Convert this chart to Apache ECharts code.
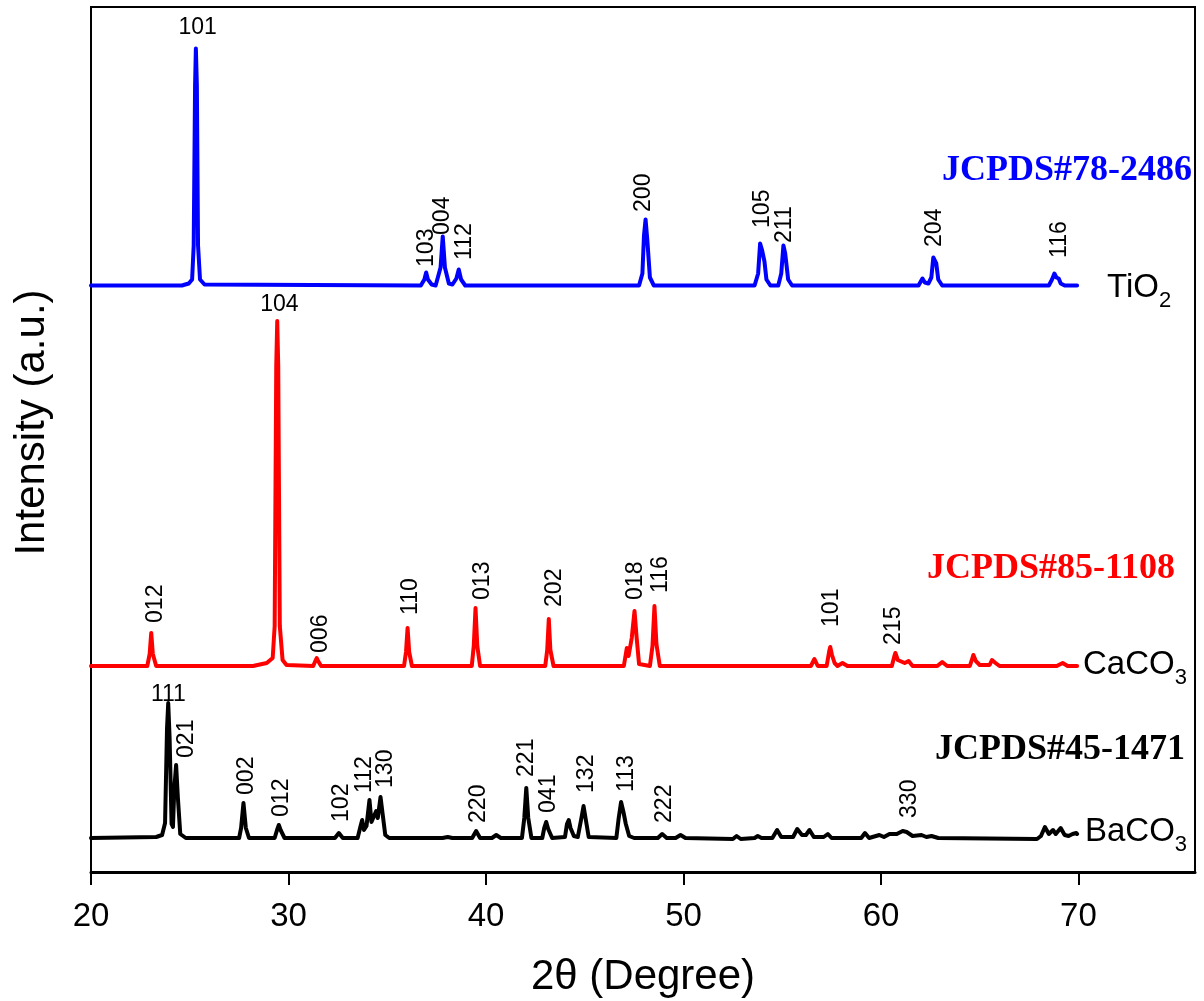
<!DOCTYPE html>
<html>
<head>
<meta charset="utf-8">
<script src="https://cdn.jsdelivr.net/npm/echarts@6/dist/echarts.min.js"></script>
<style>
  html, body { margin: 0; padding: 0; background: #fff; }
  #chart { width: 1204px; height: 1001px; }
</style>
</head>
<body>
<div id="chart"></div>
<script>
// 2θ (deg) vs intensity above each pattern's own baseline (a.u.)
const tio2Profile = [
  [20, 0], [24.6, 0], [24.95, 2], [25.12, 6], [25.2, 40], [25.27, 200], [25.31, 237], [25.36, 200],
  [25.42, 40], [25.52, 6], [25.75, 1], [36.7, 0], [36.88, 6], [36.97, 13], [37.06, 6], [37.25, 1],
  [37.45, 0], [37.7, 18], [37.81, 49], [37.92, 18], [38.12, 2], [38.3, 1], [38.5, 7], [38.62, 16],
  [38.74, 6], [38.95, 0], [47.75, 0], [47.92, 12], [48.0, 50], [48.08, 66], [48.17, 45], [48.3, 8],
  [48.5, 0], [53.6, 0], [53.78, 12], [53.88, 42], [53.97, 36], [54.1, 24], [54.2, 6], [54.4, 0],
  [54.8, 0], [54.95, 12], [55.06, 40], [55.15, 32], [55.3, 6], [55.5, 0], [61.9, 0], [62.1, 7],
  [62.22, 3], [62.4, 2], [62.55, 8], [62.65, 28], [62.71, 30], [62.8, 22], [62.9, 6], [63.1, 0],
  [68.5, 0], [68.66, 6], [68.78, 12], [68.88, 8], [69.0, 7], [69.1, 2], [69.3, 0], [69.93, 0]
];
const caco3Profile = [
  [20, 0], [22.85, 0], [22.97, 12], [23.05, 33], [23.13, 12], [23.3, 0], [28.2, 0], [28.9, 3],
  [29.2, 8], [29.3, 40], [29.38, 300], [29.43, 345], [29.48, 300], [29.56, 40], [29.7, 6], [29.9, 1],
  [31.25, 0], [31.36, 5], [31.43, 8], [31.5, 5], [31.65, 0], [35.85, 0], [35.95, 14], [36.03, 38],
  [36.11, 14], [36.25, 0], [39.28, 0], [39.38, 20], [39.47, 58], [39.56, 20], [39.7, 0], [43.0, 0],
  [43.1, 16], [43.18, 47], [43.26, 16], [43.42, 0], [46.98, 0], [47.08, 12], [47.13, 18], [47.22, 10],
  [47.38, 28], [47.52, 55], [47.62, 30], [47.75, 2], [48.3, 0], [48.43, 20], [48.53, 60], [48.63, 22],
  [48.8, 0], [56.45, 0], [56.63, 7], [56.8, 0], [57.25, 0], [57.38, 15], [57.43, 19], [57.52, 11],
  [57.65, 3], [57.8, 0], [58.05, 3], [58.3, 0], [60.55, 0], [60.68, 10], [60.73, 13], [60.85, 6],
  [61.2, 3], [61.4, 5], [61.6, 0], [62.85, 0], [63.1, 4], [63.35, 0], [64.5, 0], [64.63, 8],
  [64.68, 11], [64.8, 5], [65.0, 1], [65.5, 1], [65.62, 6], [65.68, 8], [65.8, 3], [66.0, 0],
  [68.9, 0], [69.2, 3], [69.45, 0], [69.93, 0]
];
const baco3Profile = [
  [20, 0], [23.3, 1], [23.6, 3], [23.75, 15], [23.85, 110], [23.91, 135], [23.98, 100], [24.08, 14],
  [24.15, 11], [24.22, 50], [24.31, 73], [24.4, 40], [24.52, 4], [24.8, 0], [27.5, 0], [27.6, 10],
  [27.72, 35], [27.84, 10], [28.0, 0], [29.3, 0], [29.42, 8], [29.51, 13], [29.6, 8], [29.8, 0],
  [32.35, 0], [32.55, 5], [32.75, 0], [33.5, 0], [33.65, 12], [33.73, 18], [33.82, 8], [33.95, 12],
  [34.1, 38], [34.2, 16], [34.3, 14], [34.44, 27], [34.52, 20], [34.66, 41], [34.76, 25], [34.9, 3],
  [35.1, 0], [37.8, 0], [38.06, 1], [38.3, 0], [39.3, 0], [39.5, 7], [39.7, 0], [40.3, 0],
  [40.52, 3], [40.75, 0], [41.82, 0], [41.94, 20], [42.04, 50], [42.14, 20], [42.3, 0], [42.85, 0],
  [42.95, 10], [43.05, 16], [43.15, 9], [43.35, 0], [44.0, 1], [44.1, 14], [44.19, 18], [44.28, 10],
  [44.45, 2], [44.65, 1], [44.85, 22], [44.94, 32], [45.04, 20], [45.2, 1], [46.6, 0], [46.72, 20],
  [46.84, 36], [46.96, 26], [47.08, 14], [47.25, 2], [47.5, 0], [48.7, 0], [48.92, 4], [49.15, 0],
  [49.6, 0], [49.85, 3], [50.1, 0], [52.5, -1], [52.69, 2], [52.9, -1], [53.6, 0], [53.76, 2],
  [53.95, 0], [54.5, 0], [54.74, 8], [54.95, 1], [55.55, 1], [55.76, 9], [56.0, 3], [56.2, 3],
  [56.38, 8], [56.6, 1], [57.1, 1], [57.31, 4], [57.5, 0], [59.0, 0], [59.19, 5], [59.4, 0],
  [59.92, 3], [60.15, 1], [60.43, 4], [60.8, 4], [61.1, 7], [61.3, 6], [61.6, 2], [62.05, 3],
  [62.3, 1], [62.56, 2], [62.9, 0], [67.9, -1], [68.1, 2], [68.3, 11], [68.5, 4], [68.71, 8],
  [68.85, 4], [69.1, 10], [69.3, 3], [69.5, 2], [69.7, 4], [69.89, 5], [69.93, 4]
];

// vertical offsets used to stack the patterns (a.u.)
const stackOffsets = { tio2: 586.5, caco3: 206, baco3: 34 };

// Miller indices: [2θ, label base above baseline, hkl]
const tio2Top = [[25.4, 246.5, '101']];
const tio2Hkl = [
  [36.99, 18.5, '103'], [37.8, 50.5, '004'], [38.91, 25.5, '112'], [47.97, 73.5, '200'],
  [54.0, 57.5, '105'], [55.11, 42.5, '211'], [62.71, 38.5, '204'], [69.04, 27.5, '116']
];
const caco3Top = [[29.54, 350, '104']];
const caco3Hkl = [
  [23.27, 43, '012'], [31.61, 13, '006'], [36.21, 51, '110'], [39.81, 66, '013'], [43.47, 59, '202'],
  [47.6, 66, '018'], [48.87, 73, '116'], [57.48, 39, '101'], [60.63, 21, '215']
];
const baco3Top = [[23.92, 132, '111']];
const baco3Hkl = [
  [24.87, 80, '021'], [27.86, 43, '002'], [29.68, 21, '012'], [32.7, 16, '102'], [33.88, 45, '112'],
  [34.91, 50, '130'], [39.64, 15, '220'], [42.04, 61, '221'], [43.18, 25, '041'], [45.1, 45, '132'],
  [47.15, 46, '113'], [49.04, 15, '222'], [61.44, 20, '330']
];

const xTicks = [20, 30, 40, 50, 60, 70];
const cardLabels = ['JCPDS#78-2486', 'JCPDS#85-1108', 'JCPDS#45-1471'];

const SANS = 'Liberation Sans, Arial, Helvetica, sans-serif';
const SERIF = 'Liberation Serif, Times New Roman, serif';

function lift(points, off) {
  return points.map(p => [p[0], p[1] + off]);
}

function profileSeries(name, points, off, color) {
  return {
    name,
    type: 'line',
    data: lift(points, off),
    symbol: 'none',
    lineStyle: { color, width: 4, cap: 'round', join: 'round' },
    z: 2
  };
}

function hklSeries(labels, off, upright) {
  return {
    type: 'scatter',
    symbol: 'circle',
    symbolSize: 0.1,
    itemStyle: { color: 'transparent' },
    data: labels.map(l => [l[0], l[1] + off, l[2]]),
    label: {
      show: true,
      position: [0, 0],
      formatter: p => p.value[2],
      rotate: upright ? 0 : 90,
      align: upright ? 'center' : 'left',
      verticalAlign: upright ? 'bottom' : 'middle',
      color: '#000',
      opacity: 1,
      fontSize: 23,
      fontFamily: SANS
    },
    z: 3
  };
}

function phaseName(text, x, y) {
  return {
    type: 'text',
    x, y,
    style: {
      text,
      fill: '#000',
      fontSize: 33,
      fontFamily: SANS,
      verticalAlign: 'middle',
      rich: { s: { fontSize: 22, fontFamily: SANS, fill: '#000', padding: [26, 0, 0, 0] } }
    }
  };
}

function cardText(text, x, y, color) {
  return {
    type: 'text',
    x, y,
    style: {
      text,
      fill: color,
      fontSize: 36,
      fontWeight: 'bold',
      fontFamily: SERIF,
      align: 'right',
      verticalAlign: 'middle'
    }
  };
}

const chart = echarts.init(document.getElementById('chart'), null, { renderer: 'canvas' });

chart.setOption({
  animation: false,
  backgroundColor: '#fff',
  grid: {
    left: 91, right: 9, top: 7, bottom: 129,
    outerBoundsMode: 'none',
    containLabel: false,
    show: true, borderColor: '#000', borderWidth: 2
  },
  xAxis: {
    type: 'value',
    min: xTicks[0],
    max: 75.9,
    interval: 10,
    name: '2θ (Degree)',
    nameLocation: 'middle',
    nameGap: 84,
    nameTextStyle: { color: '#000', fontSize: 42, fontFamily: SANS },
    axisLine: { show: true, lineStyle: { color: '#000', width: 3 } },
    axisTick: { show: true, inside: false, length: 13, lineStyle: { color: '#000', width: 2 } },
    axisLabel: {
      color: '#000', fontSize: 33, fontFamily: SANS, margin: 28,
      showMaxLabel: false,
      formatter: v => (xTicks.includes(v) ? String(v) : '')
    },
    splitLine: { show: false }
  },
  yAxis: {
    type: 'value',
    min: 0,
    max: 865,
    name: 'Intensity (a.u.)',
    nameLocation: 'middle',
    nameGap: 38,
    nameTextStyle: { color: '#000', fontSize: 42, fontFamily: SANS, padding: [0, 0, 0, 34] },
    axisLine: { show: true, lineStyle: { color: '#000', width: 2 } },
    axisTick: { show: false },
    axisLabel: { show: false },
    splitLine: { show: false }
  },
  series: [
    profileSeries('TiO2', tio2Profile, stackOffsets.tio2, '#0000ff'),
    profileSeries('CaCO3', caco3Profile, stackOffsets.caco3, '#ff0000'),
    profileSeries('BaCO3', baco3Profile, stackOffsets.baco3, '#000000'),
    hklSeries(tio2Top, stackOffsets.tio2, true),
    hklSeries(tio2Hkl, stackOffsets.tio2, false),
    hklSeries(caco3Top, stackOffsets.caco3, true),
    hklSeries(caco3Hkl, stackOffsets.caco3, false),
    hklSeries(baco3Top, stackOffsets.baco3, true),
    hklSeries(baco3Hkl, stackOffsets.baco3, false)
  ],
  graphic: [
    cardText(cardLabels[0], 1192, 171, '#0000ff'),
    cardText(cardLabels[1], 1175, 569, '#ff0000'),
    cardText(cardLabels[2], 1185, 750, '#000000'),
    phaseName('TiO{s|2}', 1107, 288),
    phaseName('CaCO{s|3}', 1083, 665),
    phaseName('BaCO{s|3}', 1085, 832)
  ]
});
</script>
</body>
</html>
